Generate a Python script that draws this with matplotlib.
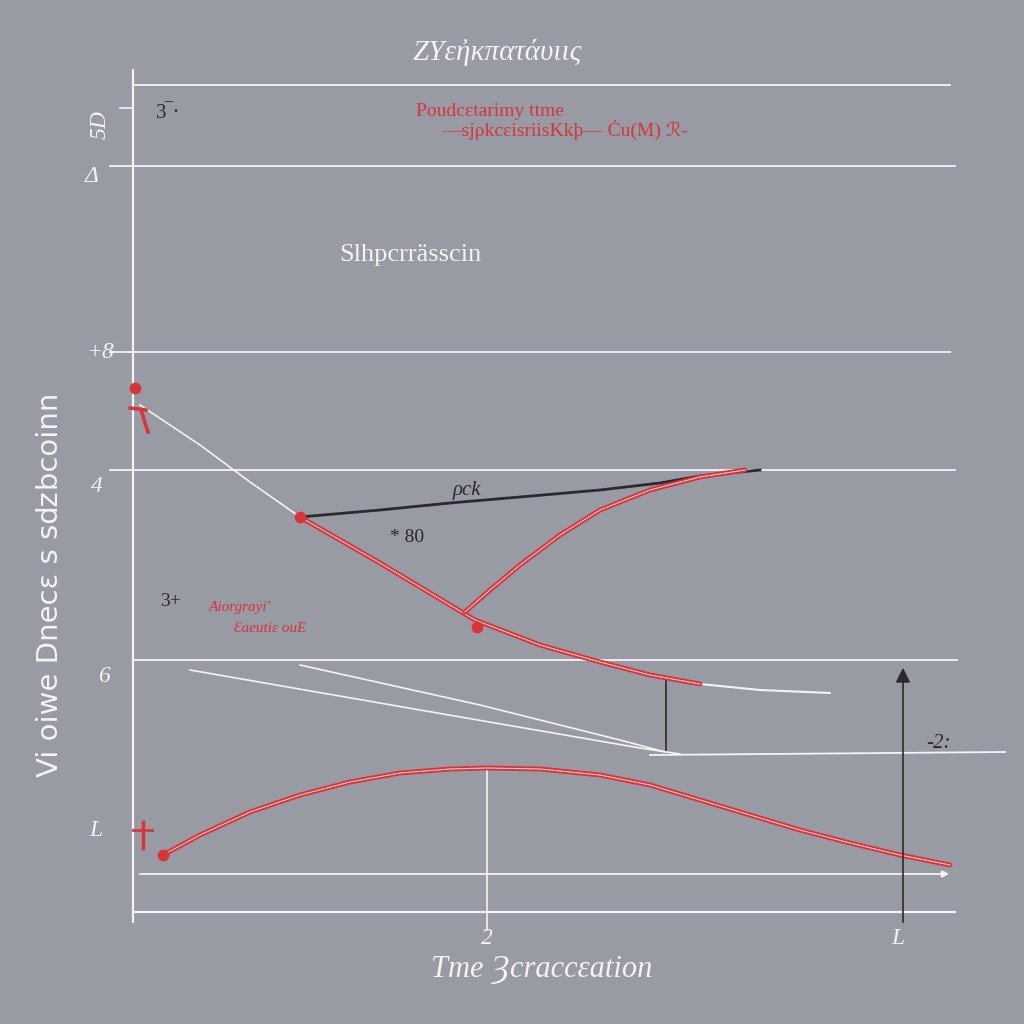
import matplotlib.pyplot as plt

BG = '#989aa4'
RED = '#d8343a'
WHITE = '#f4f4f4'
DARK = '#2a2a2e'

# chart data (in chart units: x across, y down)
grid_y = [85, 166, 352, 470, 660]
grid_x0 = [133, 110, 110, 110, 133]
grid_x1 = [950, 955, 950, 955, 957]

fall_x = [300, 340, 380, 420, 475, 540, 600, 650, 700]
fall_y = [517, 540, 563, 587, 620, 645, 662, 675, 684]
fade_x = [700, 760, 830]
fade_y = [684, 690, 693]
lead_x = [140, 200, 250, 300]
lead_y = [405, 445, 482, 517]

black_x = [300, 380, 450, 520, 600, 660, 700, 760]
black_y = [517, 510, 503, 497, 490, 483, 476, 470]

rise_x = [465, 490, 520, 560, 600, 650, 700, 745]
rise_y = [612, 590, 565, 535, 510, 490, 477, 470]

arc_x = [163, 200, 250, 300, 350, 400, 450, 487, 540, 600, 650, 700, 750, 800, 850, 900, 950]
arc_y = [855, 835, 812, 795, 782, 773, 769, 768, 769, 775, 785, 800, 815, 830, 843, 855, 865]

line_a_x = [190, 420, 640, 680]
line_a_y = [670, 710, 748, 754]
line_b_x = [300, 480, 620, 665]
line_b_y = [665, 705, 740, 752]

dots_x = [135, 300, 477, 163]
dots_y = [388, 517, 627, 855]

fig = plt.figure(figsize=(10.24, 10.24), dpi=100, facecolor=BG)
ax = fig.add_axes([0, 0, 1, 1])
ax.set_facecolor(BG)
ax.set_xlim(0, 1024)
ax.set_ylim(1024, 0)
ax.axis('off')

# axes frame
ax.plot([133, 133], [70, 922], color=WHITE, lw=1.6)
ax.plot([133, 955], [912, 912], color=WHITE, lw=1.6)
ax.plot([120, 133], [108, 108], color=WHITE, lw=1.2)
for y, a, b in zip(grid_y, grid_x0, grid_x1):
    ax.plot([a, b], [y, y], color=WHITE, lw=1.3)
ax.annotate('', xy=(952, 874), xytext=(137, 874),
            arrowprops=dict(arrowstyle='-|>', color=WHITE, lw=1.3, mutation_scale=10))
ax.plot([650, 1005], [755, 752], color=WHITE, lw=1.3)
ax.plot([487, 487], [768, 930], color=WHITE, lw=1.2)
ax.plot([666, 666], [680, 750], color=DARK, lw=1.2)
ax.annotate('', xy=(903, 665), xytext=(903, 925),
            arrowprops=dict(arrowstyle='-|>', color=DARK, lw=1.2, mutation_scale=22))

# curves
ax.plot(lead_x, lead_y, color=WHITE, lw=1.2)
ax.plot(line_a_x, line_a_y, color=WHITE, lw=1.2)
ax.plot(line_b_x, line_b_y, color=WHITE, lw=1.2)
ax.plot(fade_x, fade_y, color=WHITE, lw=1.5)
ax.plot(black_x, black_y, color=DARK, lw=2)
for xs, ys in [(fall_x, fall_y), (rise_x, rise_y), (arc_x, arc_y)]:
    ax.plot(xs, ys, color=RED, lw=3.5, solid_capstyle='round')
    ax.plot(xs, ys, color='#f0c8c8', lw=0.8)
ax.scatter(dots_x, dots_y, color=RED, s=55, zorder=5)
ax.plot([130, 146], [408, 410], color=RED, lw=2.5)
ax.plot([141, 148], [410, 432], color=RED, lw=2.5)
ax.plot([133, 152], [830, 830], color=RED, lw=2)
ax.plot([143, 143], [822, 848], color=RED, lw=2.5)

serif = ['Liberation Serif', 'DejaVu Serif', 'DejaVu Sans', 'Noto Sans']
sans = ['DejaVu Sans', 'Noto Sans']
# titles
ax.text(497, 52, 'ZYεἠκπατάυιις', color=WHITE, fontsize=21, family=serif,
        style='italic', ha='center', va='center')
ax.text(410, 255, 'Slhpcrrässcin', color=WHITE, fontsize=19, family=serif,
        ha='center', va='center')
ax.text(542, 970, 'Tme Ȝcraccεation', color=WHITE, fontsize=22, family=serif,
        style='italic', ha='center', va='center')
ax.text(50, 585, 'Vi oiwe Dnecɛ s sǳbcoinn', color=WHITE, fontsize=21,
        family=sans, rotation=90, ha='center', va='center')

# red notes
ax.text(490, 111, 'Poudcεtarimy ttme', color=RED, fontsize=14, family=serif,
        ha='center', va='center')
ax.text(565, 130, '—sjρkcεisriisKkþ— Ċu(M) ℛ-', color=RED, fontsize=14, family=serif,
        ha='center', va='center')
ax.text(240, 608, 'Aiorgrayi\'', color=RED, fontsize=11, family=serif,
        style='italic', ha='center', va='center')
ax.text(270, 629, 'Ɛaeutiɛ ouE', color=RED, fontsize=11, family=serif,
        style='italic', ha='center', va='center')

# dark notes
ax.text(168, 114, '3‾·', color=DARK, fontsize=15, family=serif, ha='center', va='center')
ax.text(467, 490, 'ρck', color=DARK, fontsize=15, family=serif, style='italic',
        ha='center', va='center')
ax.text(407, 537, '* 80', color=DARK, fontsize=14, family=serif, ha='center', va='center')
ax.text(170, 601, '3+', color=DARK, fontsize=14, family=serif, ha='center', va='center')
ax.text(938, 743, '-2:', color=DARK, fontsize=15, family=serif, style='italic',
        ha='center', va='center')

# tick-like labels
ticks = [(100, 125, '5D', 90), (92, 176, 'Δ', 0), (100, 352, '+8', 0),
         (97, 486, '4', 0), (104, 677, '6', 0), (96, 830, 'L', 0),
         (487, 938, '2', 0), (898, 938, 'L', 0)]
for x, y, s, r in ticks:
    ax.text(x, y, s, color=WHITE, fontsize=17, family=serif, style='italic',
            rotation=r, ha='center', va='center')

fig.savefig('out.png', dpi=100, facecolor=BG)
